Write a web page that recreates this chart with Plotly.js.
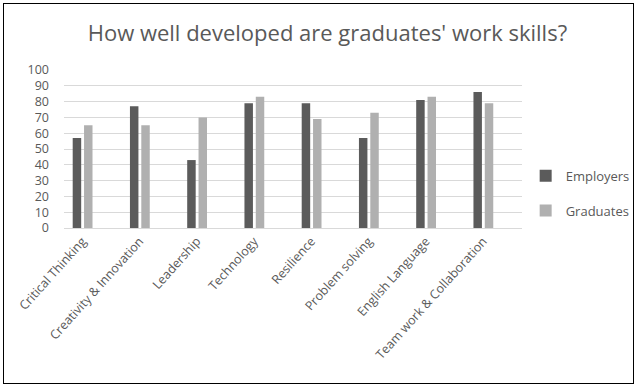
<!DOCTYPE html>
<html>
<head>
<meta charset="utf-8">
<script src="https://cdn.plot.ly/plotly-3.0.1.min.js"></script>
<style>
html,body{margin:0;padding:0;background:#fff;}
#wrap{position:relative;width:637px;height:387px;}
#chart{position:absolute;left:0;top:0;width:637px;height:387px;}
#frame{position:absolute;left:3px;top:3px;width:629px;height:379px;border:1px solid #000;pointer-events:none;}
</style>
</head>
<body>
<div id="wrap"><div id="chart"></div><div id="frame"></div></div>
<script>
const categories = ["Critical Thinking","Creativity & Innovation","Leadership","Technology","Resilience","Problem solving","English Language","Team work & Collaboration"];
const employers = [57, 77, 43, 79, 79, 57, 81, 86];
const graduates = [65, 65, 70, 83, 69, 73, 83, 79];
const yTicks = [0,10,20,30,40,50,60,70,80,90,100];

const font = "Open Sans, Noto Sans, sans-serif";
const traces = [
  {type:"bar", name:"Employers", x:categories, y:employers, width:0.148, offset:-0.168, marker:{color:"#5b5b5b"}, legendgroup:"a", hoverinfo:"none"},
  {type:"bar", name:"Graduates", x:categories, y:graduates, width:0.148, offset:0.030, marker:{color:"#b0b0b0"}, legendgroup:"b", hoverinfo:"none"}
];
const layout = {
  width:637, height:387,
  margin:{l:64, r:115, t:70, b:159, pad:0, autoexpand:false},
  paper_bgcolor:"#fff", plot_bgcolor:"#fff",
  font:{family:font, color:"#595959", size:12},
  title:{text:"How well developed are graduates' work skills?", x:0.514, xanchor:"center", y:0.913, yanchor:"middle", font:{family:font, size:22, color:"#595959"}},
  barmode:"overlay",
  xaxis:{type:"category", range:[-0.32, 7.68], tickangle:-48, showgrid:false, showline:true, linecolor:"#d9d9d9", linewidth:1, ticks:"", tickfont:{size:12.5, color:"#595959"}, fixedrange:true},
  yaxis:{range:[0,100], tickvals:yTicks, showgrid:true, gridcolor:"#d9d9d9", zeroline:false, showline:false, ticks:"", ticklabelstandoff:14, tickfont:{size:12.5, color:"#595959"}, fixedrange:true},
  legend:{x:1.008, xanchor:"left", y:0.22, yanchor:"middle", traceorder:"grouped", tracegroupgap:15, font:{size:13, color:"#595959"}, itemwidth:30},
  showlegend:true
};
Plotly.newPlot("chart", traces, layout, {staticPlot:true, displayModeBar:false});
</script>
</body>
</html>
